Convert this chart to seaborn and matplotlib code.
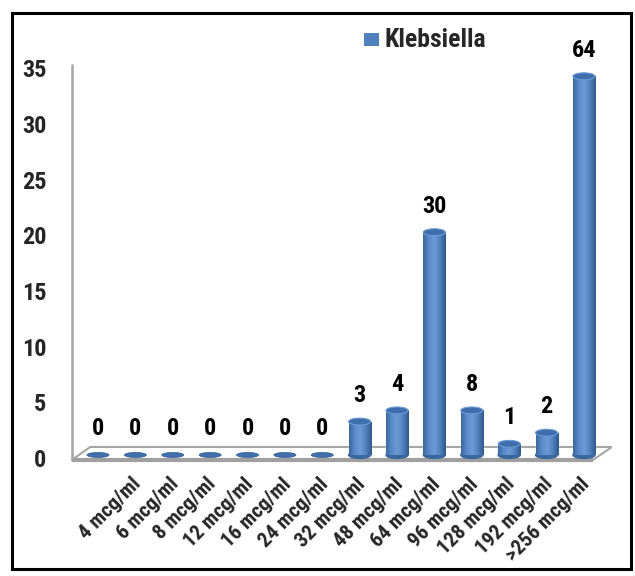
import numpy as np
import pandas as pd
import matplotlib
matplotlib.use("Agg")
import matplotlib.pyplot as plt
import matplotlib.transforms as mtransforms
from matplotlib.patches import Ellipse, Polygon, Rectangle
import seaborn as sns

# 13 category labels, 14 bars (as in the source chart)
categories = ["4 mcg/ml", "6 mcg/ml", "8 mcg/ml", "12 mcg/ml", "16 mcg/ml",
              "24 mcg/ml", "32 mcg/ml", "48 mcg/ml", "64 mcg/ml", "96 mcg/ml",
              "128 mcg/ml", "192 mcg/ml", ">256 mcg/ml"]
heights = [0, 0, 0, 0, 0, 0, 0, 3, 4, 20, 4, 1, 2, 34]
value_labels = ["0", "0", "0", "0", "0", "0", "0", "3", "4", "30", "8", "1", "2", "64"]
y_ticks = [0, 5, 10, 15, 20, 25, 30, 35]
series_name = "Klebsiella"

sns.set_theme(style="white")
plt.rcParams["font.family"] = ["Roboto Condensed", "Archivo Narrow", "Liberation Sans", "DejaVu Sans"]
plt.rcParams["font.weight"] = "bold"

df = pd.DataFrame({"pos": [str(i) for i in range(len(heights))], "val": heights})

fig = plt.figure(figsize=(6.35, 5.76), dpi=100)
ax = fig.add_axes([0.1102, 0.184, 0.8535, 0.7118])

bar_w = 0.59
sns.barplot(data=df, x="pos", y="val", color="#4F81BD", width=bar_w,
            saturation=1, ax=ax, zorder=3)

# cylinder shading
grad = np.linspace(0, 1, 64).reshape(1, -1)
cmap = matplotlib.colors.LinearSegmentedColormap.from_list(
    "cyl", ["#3A679E", "#5A8CCA", "#6C9BD5", "#4F81BD", "#2E5889"])
cap_h = 0.62
for i, (p, h) in enumerate(zip(ax.patches, heights)):
    x0 = p.get_x()
    w = p.get_width()
    xc = x0 + w / 2
    if h > 0:
        im = ax.imshow(grad, extent=[x0, x0 + w, 0, h], aspect="auto",
                       cmap=cmap, zorder=3.1)
        im.set_clip_path(p)
        ax.add_patch(Ellipse((xc, 0), w, cap_h, color="#3A679E", zorder=3.0))
        ax.add_patch(Ellipse((xc, h), w, cap_h, facecolor="#3E6FAC",
                             edgecolor="#6C9BD5", lw=0.8, zorder=3.2))
    else:
        ax.add_patch(Ellipse((xc, 0), w, 0.45, facecolor="#3F70AD",
                             edgecolor="#2F5A8E", lw=0.5, zorder=3.2))
    ax.text(xc, h + 1.3, value_labels[i], ha="center", va="bottom",
            fontsize=17.5, fontweight="bold", color="black")

# floor and wall edge
floor = Polygon([(-0.70, -0.45), (13.24, -0.45), (13.75, 0.72), (-0.21, 0.72)],
                closed=True, facecolor="white", edgecolor="#A6A6A6", lw=1.5, zorder=1)
ax.add_patch(floor)
ax.plot([-0.70, 13.24], [-0.45, -0.45], color="#A0A0A0", lw=3, zorder=1.5,
        solid_capstyle="butt")
ax.plot([-0.70, -0.70], [-0.45, 35.0], color="#A6A6A6", lw=1.8, zorder=1,
        clip_on=False)

ax.set_xlim(-0.75, 13.75)
ax.set_ylim(-1.35, 35.46)
ax.set_yticks(y_ticks)
ax.set_yticklabels([str(t) for t in y_ticks], fontsize=17.5, fontweight="bold")
ax.set_xlabel("")
ax.set_ylabel("")
for s in ax.spines.values():
    s.set_visible(False)
ax.tick_params(axis="y", length=0, pad=17)
yoff = mtransforms.ScaledTranslation(0, -3 / 100, fig.dpi_scale_trans)
for lab in ax.get_yticklabels():
    lab.set_transform(lab.get_transform() + yoff)

ax.tick_params(axis="x", length=0, pad=3)
ax.set_xticks([i + 0.9 for i in range(len(categories))])
ax.set_xticklabels(categories, rotation=45, ha="right", va="top",
                   rotation_mode="anchor", fontsize=15, fontweight="bold")

# legend
fig.patches.append(Rectangle((364 / 635, 1 - 46 / 576), 15 / 635, 13 / 576,
                             transform=fig.transFigure, facecolor="#4F81BD",
                             edgecolor="none"))
fig.text(385 / 635, 1 - 40 / 576, series_name, fontsize=18.5, fontweight="bold",
         va="center")

# outer frame
fig.patches.append(Rectangle((0.019, 0.012), 0.975, 0.965, transform=fig.transFigure,
                             fill=False, edgecolor="black", lw=2.2))

fig.savefig("out.png", dpi=100)
